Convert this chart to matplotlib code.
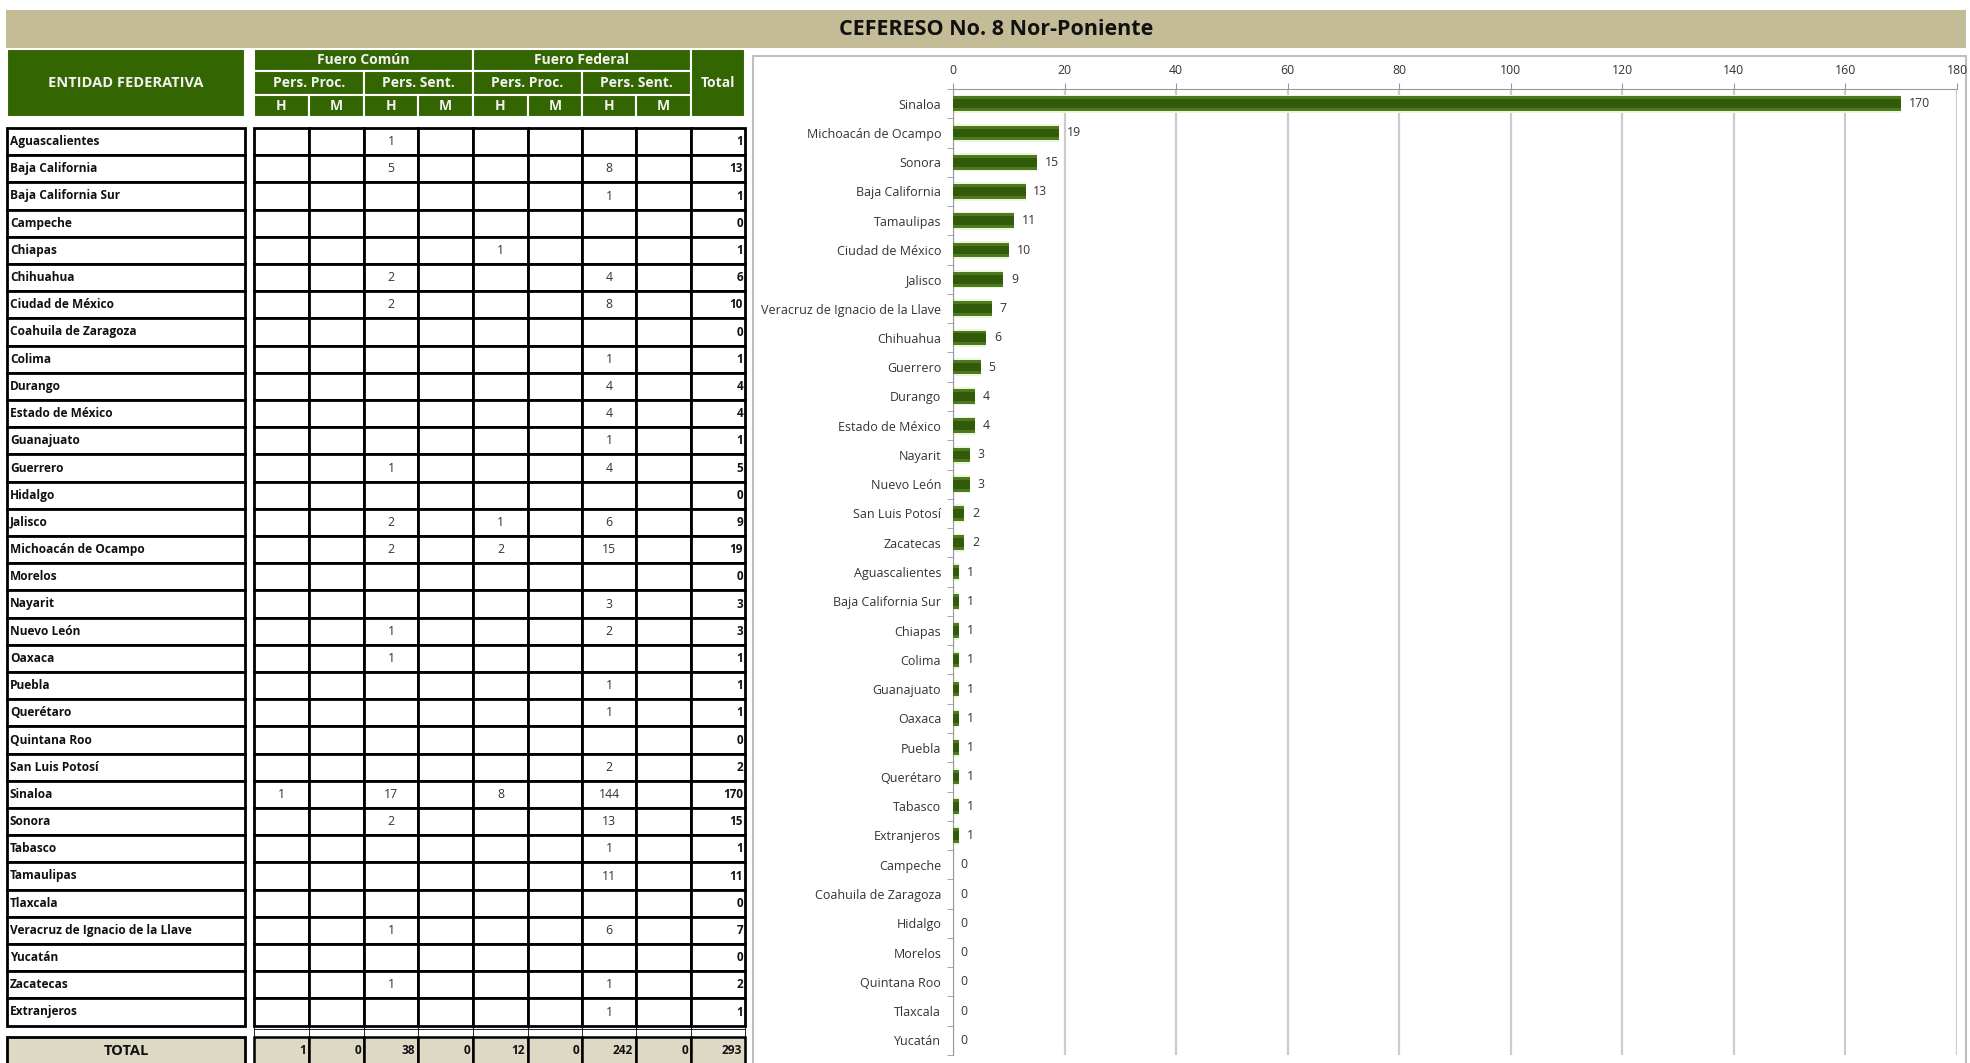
import matplotlib.pyplot as plt
import matplotlib.patches as patches
import numpy as np

plt.rcParams["font.family"] = ["Open Sans", "DejaVu Sans"]

title = "CEFERESO No. 8 Nor-Poniente"

states = [
    "Aguascalientes", "Baja California", "Baja California Sur", "Campeche", "Chiapas",
    "Chihuahua", "Ciudad de México", "Coahuila de Zaragoza", "Colima", "Durango",
    "Estado de México", "Guanajuato", "Guerrero", "Hidalgo", "Jalisco",
    "Michoacán de Ocampo", "Morelos", "Nayarit", "Nuevo León", "Oaxaca",
    "Puebla", "Querétaro", "Quintana Roo", "San Luis Potosí", "Sinaloa",
    "Sonora", "Tabasco", "Tamaulipas", "Tlaxcala", "Veracruz de Ignacio de la Llave",
    "Yucatán", "Zacatecas", "Extranjeros",
]
# fuero comun
fc_proc_h = [0, 0, 0, 0, 0, 0, 0, 0, 0, 0, 0, 0, 0, 0, 0, 0, 0, 0, 0, 0, 0, 0, 0, 0, 1, 0, 0, 0, 0, 0, 0, 0, 0]
fc_proc_m = [0] * 33
fc_sent_h = [1, 5, 0, 0, 0, 2, 2, 0, 0, 0, 0, 0, 1, 0, 2, 2, 0, 0, 1, 1, 0, 0, 0, 0, 17, 2, 0, 0, 0, 1, 0, 1, 0]
fc_sent_m = [0] * 33
# fuero federal
ff_proc_h = [0, 0, 0, 0, 1, 0, 0, 0, 0, 0, 0, 0, 0, 0, 1, 2, 0, 0, 0, 0, 0, 0, 0, 0, 8, 0, 0, 0, 0, 0, 0, 0, 0]
ff_proc_m = [0] * 33
ff_sent_h = [0, 8, 1, 0, 0, 4, 8, 0, 1, 4, 4, 1, 4, 0, 6, 15, 0, 3, 2, 0, 1, 1, 0, 2, 144, 13, 1, 11, 0, 6, 0, 1, 1]
ff_sent_m = [0] * 33

columns = [fc_proc_h, fc_proc_m, fc_sent_h, fc_sent_m, ff_proc_h, ff_proc_m, ff_sent_h, ff_sent_m]
totals = [sum(c[i] for c in columns) for i in range(len(states))]
col_totals = [sum(c) for c in columns] + [sum(totals)]

W, H = 1970, 1063
fig = plt.figure(figsize=(W / 100, H / 100), dpi=100)
ax = fig.add_axes([0, 0, 1, 1])
ax.set_xlim(0, W)
ax.set_ylim(H, 0)
ax.axis("off")

GREEN = "#336600"
BEIGE = "#c4bc96"
TOT_BG = "#ddd9c4"


def rect(x0, y0, x1, y1, fc, ec, lw, z=1):
    ax.add_patch(patches.Rectangle((x0, y0), x1 - x0, y1 - y0, facecolor=fc,
                                   edgecolor=ec, linewidth=lw, zorder=z))


# title band
rect(6, 10, 1966, 48, BEIGE, "none", 0)
ax.text(996, 29.5, title, ha="center", va="center", fontsize=15.5, fontweight="bold", color="#111111")

# header
xe = [254, 309, 364, 418, 473, 528, 582, 636, 691, 745]
rect(7, 49, 245, 117, GREEN, "white", 1.5)
ax.text(126, 83, "ENTIDAD FEDERATIVA", ha="center", va="center", color="#f2f2f2",
        fontsize=10.5, fontweight="bold")
hdr = dict(ha="center", va="center", color="#f2f2f2", fontsize=10, fontweight="bold")
for x0, x1, lab in [(xe[0], xe[4], "Fuero Común"), (xe[4], xe[8], "Fuero Federal")]:
    rect(x0, 49, x1, 71, GREEN, "white", 1.5)
    ax.text((x0 + x1) / 2, 60, lab, **hdr)
for k, lab in enumerate(["Pers. Proc.", "Pers. Sent.", "Pers. Proc.", "Pers. Sent."]):
    x0, x1 = xe[2 * k], xe[2 * k + 2]
    rect(x0, 71, x1, 95, GREEN, "white", 1.5)
    ax.text((x0 + x1) / 2, 83, lab, **hdr)
for k in range(8):
    rect(xe[k], 95, xe[k + 1], 117, GREEN, "white", 1.5)
    ax.text((xe[k] + xe[k + 1]) / 2, 106.5, "H" if k % 2 == 0 else "M", **hdr)
rect(xe[8], 49, xe[9], 117, GREEN, "white", 1.5)
ax.text((xe[8] + xe[9]) / 2, 83, "Total", **hdr)

# body rows
top, rh = 128, 27.2
for i, name in enumerate(states):
    y0 = top + i * rh
    y1 = y0 + rh
    ym = (y0 + y1) / 2
    rect(7, y0, 245, y1, "white", "black", 2)
    ax.text(10, ym, name, ha="left", va="center", fontsize=8.6, fontweight="bold", color="#111111")
    for k, col in enumerate(columns):
        rect(xe[k], y0, xe[k + 1], y1, "white", "black", 2)
        if col[i]:
            ax.text((xe[k] + xe[k + 1]) / 2, ym, str(col[i]), ha="center", va="center",
                    fontsize=8.8, color="#333333")
    rect(xe[8], y0, xe[9], y1, "white", "black", 2)
    ax.text(xe[9] - 2, ym, str(totals[i]), ha="right", va="center", fontsize=8.4,
            fontweight="bold", color="#111111")

# spacer lines
yb = top + len(states) * rh
ax.plot([xe[0], xe[9]], [yb + 3, yb + 3], color="black", lw=0.6)
for x in xe:
    ax.plot([x, x], [yb, yb + 11], color="black", lw=0.6)

# total row
rect(7, 1037, 245, 1072, TOT_BG, "black", 2)
ax.text(126, 1051, "TOTAL", ha="center", va="center", fontsize=10.5, fontweight="bold", color="#111111")
for k in range(9):
    rect(xe[k], 1037, xe[k + 1], 1072, TOT_BG, "black", 1.8)
    ax.text(xe[k + 1] - 3, 1051, str(col_totals[k]), ha="right", va="center", fontsize=8.6,
            fontweight="bold", color="#111111")

# chart frame
rect(753, 56, 1966, 1080, "white", "#bfbfbf", 1.5)

# bar chart
order = sorted(range(len(states)), key=lambda i: -totals[i])
names = [states[i] for i in order]
vals = [totals[i] for i in order]
ypos = np.arange(len(names))

cx = fig.add_axes([953 / W, (H - 1055) / H, (1957 - 953) / W, (1055 - 89) / H])
cx.set_facecolor("none")
cx.barh(ypos, vals, height=0.62, color="#eef5dc", zorder=2)
cx.barh(ypos, vals, height=0.5, color="#4c7a1c", zorder=3)
cx.barh(ypos, vals, height=0.3, color="#315a0a", zorder=4)
for y, v in zip(ypos, vals):
    cx.text(v + 1.4, y, str(v), va="center", ha="left", fontsize=8.8, color="#333333")

cx.set_xlim(0, 180)
cx.set_ylim(len(names) - 0.5, -0.5)
cx.set_xticks(np.arange(0, 181, 20))
cx.xaxis.tick_top()
cx.tick_params(axis="x", direction="out", length=4, color="#999999", labelsize=8.8,
               labelcolor="#333333", pad=5)
cx.set_yticks(ypos)
cx.set_yticklabels(names)
cx.set_yticks(np.arange(-0.5, len(names), 1), minor=True)
cx.tick_params(axis="y", which="major", length=0, labelsize=9, labelcolor="#333333", pad=8.5)
cx.tick_params(axis="y", which="minor", length=4, color="#999999", direction="out")
cx.grid(axis="x", color="#cccccc", linewidth=1.6, zorder=0)
cx.set_axisbelow(True)
for s in ["right", "bottom"]:
    cx.spines[s].set_visible(False)
cx.spines["top"].set_color("#999999")
cx.spines["left"].set_color("#999999")

fig.savefig("out.png", dpi=100)
